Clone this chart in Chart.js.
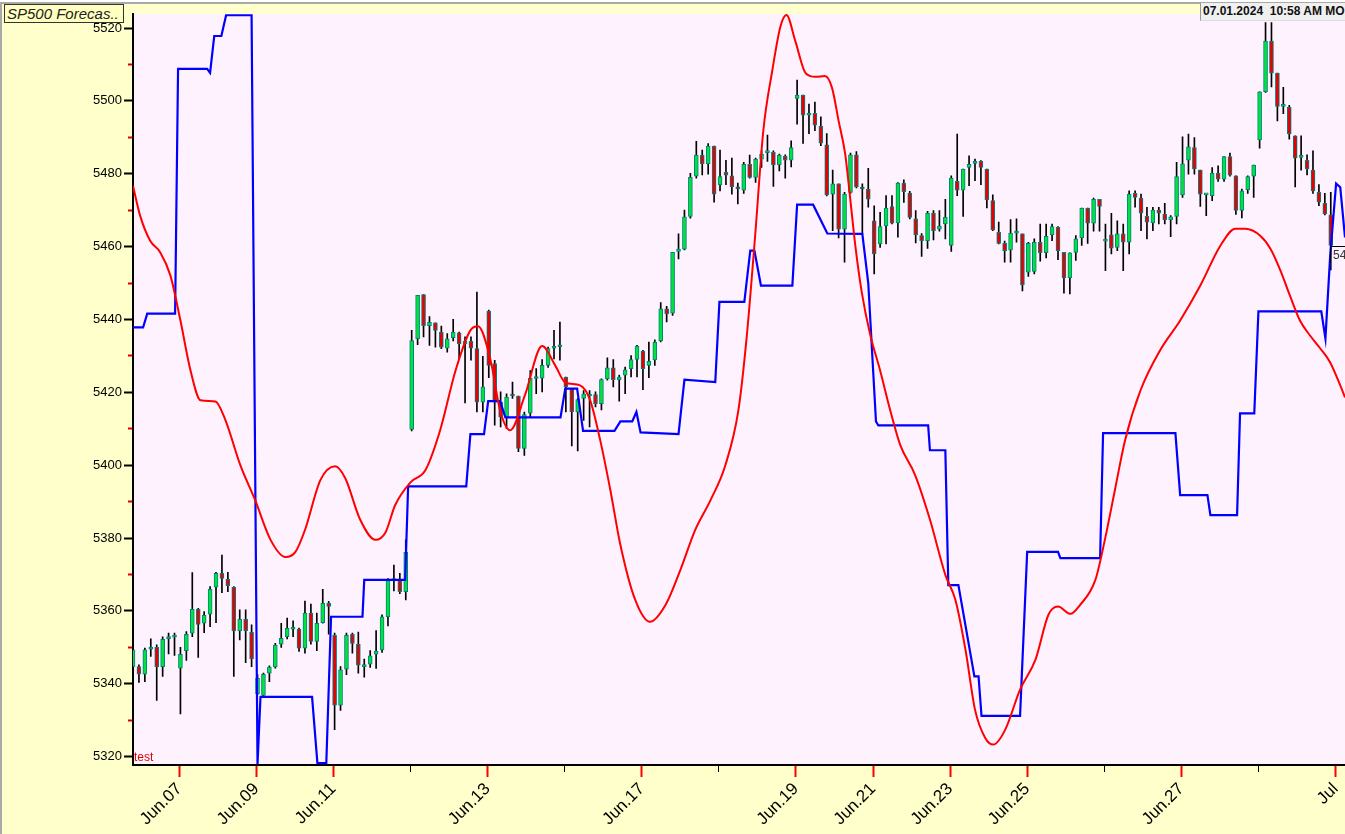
<!DOCTYPE html>
<html>
<head>
<meta charset="utf-8">
<script src="https://cdn.jsdelivr.net/npm/chart.js@4.4.1/dist/chart.umd.min.js"></script>
<style>
  html, body { margin: 0; padding: 0; background: #ffffff; overflow: hidden; width: 1345px; height: 834px; }
  #wrap { position: absolute; left: 0; top: 2px; width: 1343px; height: 830px;
          border-top: 2px solid #a9a9a9; border-left: 2px solid #a9a9a9; background: #ffffcc; }
  #chart { position: absolute; left: 0; top: 0; }
  .title { position: absolute; left: 4px; top: 4px; width: 116px; height: 17px; border: 1px solid #333;
           background: #ffffc0; font: italic 15px "Liberation Sans", Arial, sans-serif; color: #222;
           line-height: 17px; padding-left: 2px; white-space: nowrap; overflow: hidden; }
  .stamp { position: absolute; left: 1200px; top: 3px; width: 145px; height: 17px; background: #f0f0f0;
           border-left: 1px solid #999; border-bottom: 1px solid #ddd; font: bold 12px "Liberation Sans", Arial, sans-serif;
           color: #111; line-height: 17px; padding-left: 2px; white-space: nowrap; overflow: hidden; }
  .test { position: absolute; left: 134px; top: 750px; font: 12px "Liberation Sans", Arial, sans-serif; color: #e00000; }
  .last { position: absolute; left: 1330px; top: 246px; border-top: 1px solid #000; border-left: 1px solid #000;
          font: 12px "Liberation Sans", Arial, sans-serif; color: #333; padding: 1px 2px; white-space: nowrap; }
</style>
</head>
<body>
<div id="wrap"><canvas id="chart" width="1343" height="830"></canvas></div>
<div class="title">SP500 Forecas..</div>
<div class="stamp">07.01.2024&nbsp; 10:58 AM MO</div>
<div class="test">test</div>
<div class="last">5459.8</div>
<script>
// candles (one per bar, x = bar number)
const candleOpen = [5344.7,5344.7,5342.6,5349.5,5350.0,5344.7,5352.4,5352.8,5344.3,5349.1,
  5353.9,5360.4,5356.6,5359.1,5366.5,5370.3,5368.7,5366.5,5354.5,5357.7,
  5354.1,5337.3,5336.8,5342.9,5344.6,5350.9,5352.9,5355.0,5355.0,5349.8,
  5359.4,5351.6,5356.8,5362.1,5353.3,5334.1,5344.0,5353.6,5350.9,5344.7,
  5345.4,5348.1,5349.3,5358.4,5368.3,5368.3,5365.3,5409.8,5434.7,5446.8,
  5438.3,5439.1,5436.5,5432.1,5435.0,5436.3,5433.3,5434.0,5432.0,5417.3,
  5442.3,5427.9,5417.3,5413.2,5419.1,5419.0,5404.6,5414.3,5423.8,5423.9,
  5427.4,5432.1,5432.5,5424.2,5421.0,5414.6,5418.3,5419.0,5419.4,5416.9,
  5423.7,5426.7,5423.5,5424.7,5426.5,5429.0,5431.3,5427.4,5428.9,5434.1,
  5442.9,5441.7,5458.7,5459.3,5468.3,5479.3,5485.1,5482.7,5487.6,5476.9,
  5480.4,5479.4,5476.4,5475.5,5482.6,5479.0,5484.0,5485.8,5485.9,5482.4,
  5484.8,5483.7,5500.7,5501.6,5496.1,5496.6,5493.1,5487.9,5474.4,5477.2,
  5464.8,5474.9,5485.2,5476.1,5475.8,5467.1,5460.7,5465.7,5471.0,5466.5,
  5477.4,5474.7,5467.6,5463.0,5461.6,5469.2,5464.8,5466.2,5460.3,5477.9,
  5475.5,5481.7,5482.8,5483.4,5481.3,5472.6,5463.9,5460.9,5459.1,5463.7,
  5463.5,5453.0,5453.2,5461.2,5458.3,5463.2,5465.3,5458.4,5451.4,5458.4,
  5462.4,5470.6,5466.4,5473.0,5461.5,5463.2,5459.8,5463.5,5461.2,5474.6,
  5473.3,5468.3,5466.5,5470.0,5468.9,5467.3,5468.3,5474.2,5483.7,5487.2,
  5481.0,5474.2,5474.0,5480.2,5478.5,5484.7,5479.4,5469.9,5475.6,5479.3,
  5489.3,5502.5,5516.4,5507.6,5498.5,5498.2,5490.4,5484.5,5483.7,5481.0,
  5474.9,5471.9,5468.7];
const candleHigh = [5350.2,5345.2,5349.8,5352.3,5350.7,5352.9,5353.9,5353.9,5350.0,5354.3,
  5370.5,5360.7,5359.8,5366.7,5370.6,5375.3,5370.6,5366.7,5360.3,5360.3,
  5356.2,5342.5,5342.9,5344.9,5351.1,5356.6,5358.0,5357.3,5355.3,5362.7,
  5361.9,5359.4,5365.9,5362.6,5353.9,5344.7,5353.9,5353.9,5354.2,5346.8,
  5349.1,5354.6,5358.9,5368.9,5372.6,5370.3,5379.5,5437.0,5446.6,5446.8,
  5440.8,5439.1,5438.2,5436.1,5440.0,5436.5,5435.2,5435.2,5447.5,5429.9,
  5442.6,5428.8,5420.1,5419.6,5422.8,5419.0,5414.6,5426.0,5426.5,5429.0,
  5432.4,5437.0,5439.3,5424.2,5421.0,5418.3,5420.5,5420.5,5420.1,5423.7,
  5429.5,5429.0,5424.7,5426.9,5430.1,5432.9,5431.5,5433.8,5434.4,5444.6,
  5443.6,5458.4,5463.5,5470.0,5480.1,5488.9,5486.5,5488.3,5487.6,5486.5,
  5483.7,5484.3,5477.4,5483.1,5485.1,5484.3,5486.3,5490.6,5486.3,5485.4,
  5485.2,5489.0,5505.7,5501.6,5499.1,5499.7,5495.6,5491.0,5481.0,5477.2,
  5474.9,5485.7,5486.1,5477.2,5481.5,5471.2,5469.4,5474.0,5474.0,5477.6,
  5478.3,5475.2,5469.9,5463.6,5469.7,5469.9,5469.9,5473.0,5479.4,5490.9,
  5481.3,5484.9,5484.0,5483.6,5481.3,5474.2,5466.7,5461.5,5467.4,5467.6,
  5463.5,5461.2,5462.1,5466.2,5466.2,5466.2,5465.5,5458.4,5458.3,5463.0,
  5470.6,5470.6,5473.3,5473.0,5466.2,5469.1,5467.1,5466.2,5475.3,5475.3,
  5474.4,5470.8,5470.8,5470.8,5471.9,5468.5,5483.1,5490.1,5490.9,5489.9,
  5481.0,5474.2,5481.7,5482.2,5484.7,5485.7,5479.4,5475.8,5479.4,5482.4,
  5502.5,5521.5,5521.5,5507.6,5503.7,5498.8,5490.4,5490.4,5485.2,5486.3,
  5477.0,5474.6,5474.9];
const candleLow = [5343.4,5340.4,5340.6,5347.5,5335.4,5342.0,5348.2,5347.8,5331.7,5346.4,
  5352.9,5347.2,5354.0,5355.7,5356.8,5365.0,5365.3,5342.0,5352.0,5345.8,
  5344.7,5337.0,5336.5,5340.6,5344.3,5350.0,5352.3,5352.9,5348.9,5348.4,
  5350.9,5349.1,5356.6,5353.6,5327.4,5332.7,5342.5,5348.4,5342.9,5341.8,
  5344.5,5344.2,5348.6,5355.9,5365.5,5364.7,5363.0,5409.4,5433.1,5435.2,
  5432.9,5432.4,5432.0,5431.0,5434.1,5429.2,5417.1,5428.8,5414.6,5414.6,
  5424.0,5411.0,5410.5,5410.0,5418.3,5403.7,5402.7,5413.2,5419.6,5420.1,
  5426.8,5429.2,5428.8,5414.6,5405.3,5403.9,5412.3,5410.5,5416.0,5415.2,
  5423.3,5421.5,5417.6,5419.6,5424.2,5424.2,5420.7,5424.0,5427.4,5433.8,
  5439.3,5441.1,5456.6,5459.1,5467.8,5478.8,5479.7,5479.9,5472.2,5475.3,
  5477.0,5474.4,5471.7,5474.6,5478.8,5477.6,5481.7,5483.4,5476.5,5480.8,
  5478.8,5481.9,5493.6,5488.3,5491.0,5491.8,5487.7,5473.9,5464.4,5462.4,
  5455.7,5474.6,5476.1,5463.5,5470.8,5452.5,5459.8,5460.7,5466.2,5462.6,
  5472.1,5467.6,5461.0,5457.3,5459.5,5461.8,5464.2,5462.1,5458.7,5474.0,
  5468.3,5476.7,5478.1,5477.0,5470.6,5464.4,5460.7,5455.7,5455.7,5461.2,
  5447.8,5451.8,5452.5,5456.0,5456.9,5461.6,5456.4,5447.2,5447.0,5456.2,
  5460.3,5460.9,5464.2,5464.2,5453.4,5458.0,5458.9,5453.4,5458.0,5470.8,
  5464.4,5462.1,5464.4,5466.2,5466.2,5462.7,5466.2,5473.5,5479.9,5479.9,
  5471.0,5468.5,5472.6,5477.9,5477.9,5479.3,5468.8,5467.9,5474.6,5473.5,
  5487.0,5502.3,5503.8,5494.5,5496.5,5489.5,5476.4,5481.0,5479.7,5474.6,
  5471.2,5468.7,5453.6];
const candleClose = [5349.3,5342.6,5349.3,5349.8,5344.6,5352.2,5352.6,5353.3,5348.1,5353.6,
  5360.4,5356.3,5358.8,5365.9,5370.3,5368.9,5366.9,5354.5,5357.7,5354.6,
  5346.8,5341.5,5342.6,5344.6,5350.6,5352.5,5355.2,5355.1,5349.8,5359.4,
  5351.6,5356.6,5362.1,5361.2,5334.1,5343.8,5353.3,5351.1,5345.1,5344.8,
  5347.7,5349.0,5358.4,5368.3,5368.4,5365.3,5376.1,5434.2,5446.6,5438.3,
  5439.2,5437.0,5432.4,5434.7,5436.5,5433.3,5434.0,5432.1,5417.3,5421.5,
  5427.4,5417.3,5413.2,5418.7,5419.0,5404.6,5413.9,5423.9,5424.0,5427.4,
  5432.0,5432.3,5433.0,5421.5,5414.6,5418.0,5419.6,5419.1,5416.9,5423.5,
  5426.7,5423.5,5424.2,5426.2,5429.0,5432.7,5426.5,5428.5,5433.8,5442.9,
  5441.5,5458.4,5459.3,5468.2,5479.0,5485.1,5482.7,5487.6,5474.4,5479.2,
  5479.6,5476.4,5475.8,5482.6,5479.0,5484.0,5485.4,5485.9,5482.4,5485.1,
  5483.7,5487.2,5501.6,5496.1,5496.6,5493.3,5488.4,5474.2,5477.2,5464.8,
  5474.4,5485.2,5476.4,5475.8,5473.0,5458.0,5465.5,5470.6,5466.4,5477.4,
  5475.1,5468.0,5463.2,5461.6,5469.2,5464.4,5465.6,5468.0,5478.8,5475.5,
  5481.3,5482.6,5483.4,5481.7,5472.8,5464.6,5460.9,5458.9,5463.7,5463.8,
  5449.5,5460.9,5461.2,5458.3,5462.8,5465.5,5458.9,5451.4,5458.3,5462.1,
  5470.6,5466.4,5473.0,5471.0,5461.6,5459.6,5463.5,5461.2,5474.4,5473.5,
  5469.2,5466.7,5470.0,5469.2,5467.3,5468.2,5479.2,5482.7,5487.4,5481.3,
  5474.4,5474.3,5480.2,5478.5,5484.7,5479.6,5469.9,5475.3,5479.2,5482.4,
  5502.5,5516.4,5507.6,5498.5,5498.8,5490.9,5484.3,5484.6,5481.3,5475.3,
  5472.2,5469.0,5460.3];

// red forecast curve (x in bar numbers)
const redX = [0,1.2,2.9,4.6,6.3,8.0,9.7,11.4,13.9,15.6,18.1,20.6,23.2,25.7,27.4,29.0,31.6,34.1,35.8,38.3,
  40.9,42.6,44.2,46.8,49.3,51.8,54.4,56.9,58.2,60.3,61.9,63.6,66.1,69.0,71.2,72.9,75.4,77.1,78.8,80.5,
  82.2,84.7,87.2,89.8,92.3,94.8,97.4,99.9,102.1,103.5,104.9,106.3,107.8,109.2,110.2,111.7,113.4,115.1,116.7,117.9,
  119.0,120.1,121.0,121.8,122.9,124.3,126.0,127.7,129.4,131.9,134.4,137.0,138.7,140.4,142.0,143.7,145.1,147.1,149.6,152.2,
  154.4,156.0,158.1,159.7,162.3,163.9,165.6,167.3,169.9,173.2,176.6,180.0,183.4,185.9,187.6,190.1,191.8,193.5,195.1,196.8,
  198.5,200.2,201.9,203.6,204.4];
const redY = [5476.7,5468.5,5461.6,5458.4,5452.1,5439.7,5426.0,5417.8,5417.5,5412.3,5400.0,5390.4,5379.5,5374.8,5376.2,5382.2,5395.9,5399.7,5396.4,5385.1,
  5379.5,5381.6,5389.0,5395.3,5398.6,5409.6,5426.0,5437.0,5438.1,5428.8,5415.1,5409.6,5419.2,5432.7,5427.4,5422.7,5421.9,5417.8,5406.8,5393.2,
  5378.1,5363.0,5357.0,5361.6,5371.2,5382.2,5390.4,5400.0,5415.1,5435.2,5462.5,5491.8,5508.2,5520.5,5523.6,5516.4,5507.7,5506.6,5506.8,5503.5,
  5494.5,5485.5,5472.5,5460.5,5447.5,5436.0,5426.0,5415.1,5405.5,5397.3,5385.1,5369.9,5363.0,5349.3,5332.9,5325.2,5323.3,5327.4,5338.4,5346.6,
  5359.0,5361.2,5359.2,5361.6,5368.5,5379.5,5393.2,5406.8,5420.5,5431.5,5439.7,5449.3,5460.3,5464.9,5464.9,5463.0,5459.5,5453.5,5446.6,5439.7,
  5435.6,5432.1,5428.2,5421.9,5418.6];

// blue step line (x in bar numbers)
const blueX = [0,1.7,2.4,7.1,7.6,12.5,13.0,13.7,14.9,15.7,20.0,21.0,21.5,30.2,31.1,32.6,33.4,38.7,39.0,45.9,
  46.4,56.2,56.9,59.2,59.9,61.9,62.8,72.1,72.9,74.9,75.9,81.2,82.2,84.2,84.9,85.6,92.0,93.0,98.2,98.9,
  103.1,104.1,104.8,105.9,111.2,112.0,114.7,117.1,123.0,124.0,125.3,125.7,134.1,134.4,137.0,137.5,139.2,141.9,142.6,143.1,
  149.6,150.8,156.0,156.4,163.1,163.6,175.8,176.6,181.2,181.7,186.2,186.7,189.1,189.8,200.4,201.1,201.9,202.9,203.6,204.4];
const blueY = [5437.8,5437.8,5441.6,5441.6,5508.8,5508.8,5507.7,5517.8,5517.8,5523.5,5523.5,5318.0,5336.4,5336.4,5318.2,5318.2,5358.4,5358.4,5368.5,5368.5,
  5394.2,5394.2,5408.5,5408.5,5417.6,5417.6,5413.1,5413.1,5421.0,5421.0,5409.4,5409.4,5412.0,5412.0,5414.6,5409.0,5408.5,5423.5,5422.8,5444.8,
  5444.8,5458.9,5458.9,5449.3,5449.3,5471.5,5471.5,5463.6,5463.5,5450.0,5412.0,5410.9,5410.9,5404.1,5404.1,5367.1,5367.1,5342.0,5342.0,5331.2,
  5331.2,5376.2,5376.2,5374.5,5374.5,5408.8,5408.8,5391.8,5391.8,5386.3,5386.3,5414.2,5414.2,5442.2,5442.2,5434.8,5457.5,5477.3,5476.3,5462.5];

// axis ticks
const xTickPos = [7.8,20.8,33.8,46.8,59.8,72.8,85.8,98.8,111.8,124.8,137.8,150.8,163.8,176.8,189.8,202.8];
const xTickLabels = ['Jun.07','Jun.09','Jun.11','','Jun.13','','Jun.17','','Jun.19','Jun.21','Jun.23','Jun.25','','Jun.27','','Jul'];
const yMin = 5317.7, yMax = 5523.9, xMax = 204.4;

const wickData = candleLow.map((lo, i) => ({x: i, y: [lo, candleHigh[i]]}));
const bodyData = candleOpen.map((o, i) => ({x: i, y: [o, candleClose[i]]}));
const bodyColors = candleOpen.map((o, i) => candleClose[i] >= o ? '#00e23c' : '#e80000');
const redData = redX.map((x, i) => ({x: x, y: redY[i]}));
const blueData = blueX.map((x, i) => ({x: x, y: blueY[i]}));

const FONT = '"Liberation Sans", Arial, sans-serif';

// pink plot area
const plotBg = {
  id: 'plotBg',
  beforeDraw(chart) {
    const a = chart.chartArea;
    const ctx = chart.ctx;
    ctx.save();
    ctx.fillStyle = '#fff2ff';
    ctx.fillRect(a.left, a.top, a.right - a.left, a.bottom - a.top);
    ctx.restore();
  }
};

const isMajorY = c => c.tick && c.tick.value % 20 === 0;

new Chart(document.getElementById('chart'), {
  type: 'bar',
  data: {
    datasets: [
      { type: 'line', label: 'forecast', data: redData, borderColor: '#ff0000', borderWidth: 2,
        pointRadius: 0, cubicInterpolationMode: 'monotone', order: 0 },
      { type: 'line', label: 'step', data: blueData, borderColor: '#0000ff', borderWidth: 2.2,
        pointRadius: 0, tension: 0, order: 1 },
      { label: 'body', data: bodyData, backgroundColor: bodyColors, borderColor: '#008080', borderWidth: 1,
        borderSkipped: false, barThickness: 4, minBarLength: 2, grouped: false, order: 2 },
      { label: 'wick', data: wickData, backgroundColor: '#000000', borderWidth: 0,
        barThickness: 1, grouped: false, order: 3 }
    ]
  },
  options: {
    responsive: false,
    animation: false,
    devicePixelRatio: 1,
    layout: { padding: { top: 9, right: 0, left: 0, bottom: 0 } },
    plugins: { legend: { display: false }, tooltip: { enabled: false } },
    scales: {
      x: {
        type: 'linear', min: 0, max: xMax, offset: false,
        afterBuildTicks: s => { s.ticks = xTickPos.map(v => ({ value: v })); },
        afterFit: s => { s.height = 69; s.paddingRight = 0; s.paddingLeft = 0; },
        ticks: {
          autoSkip: false, maxRotation: 45, minRotation: 45, padding: 2, color: '#000',
          font: { family: FONT, size: 17 },
          callback: (v, i) => xTickLabels[i]
        },
        grid: {
          offset: false, drawOnChartArea: false, drawTicks: true, tickLength: 12,
          tickColor: c => xTickLabels[c.index] ? '#ff0000' : '#000000',
          tickWidth: c => xTickLabels[c.index] ? 2 : 1,
          tickBorderDash: c => xTickLabels[c.index] ? [] : [6, 100]
        },
        border: { color: '#000', width: 2 }
      },
      y: {
        min: yMin, max: yMax,
        afterFit: s => { s.width = 131; },
        ticks: {
          stepSize: 10, includeBounds: false, autoSkip: false, padding: 2, color: '#000',
          font: { family: FONT, size: 13 },
          callback: v => (v % 20 === 0 ? String(v) : '')
        },
        grid: {
          drawOnChartArea: false, drawTicks: true, tickLength: 9, tickWidth: 2,
          tickColor: c => (isMajorY(c) ? '#000000' : '#e00000'),
          tickBorderDash: c => (isMajorY(c) ? [] : [0, 4, 12, 100])
        },
        border: { color: '#000', width: 2 }
      }
    }
  },
  plugins: [plotBg]
});
</script>
</body>
</html>
